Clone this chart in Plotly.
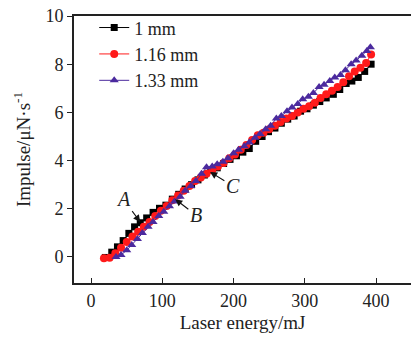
import plotly.graph_objects as go

x_1mm = [20, 29, 37, 45, 53, 61, 69, 78, 87, 96, 105, 114, 123, 132, 141, 150, 159, 168, 177, 186, 195,
         204, 213, 222, 231, 240, 249, 258, 267, 276, 285, 294, 303, 312, 321, 330, 340, 349, 358, 366,
         375, 384, 393]
y_1mm = [-0.02, 0.2, 0.42, 0.68, 0.98, 1.25, 1.42, 1.62, 1.85, 2.02, 2.15, 2.4, 2.6, 2.82, 3.0, 3.2, 3.4,
         3.6, 3.7, 3.88, 4.05, 4.2, 4.35, 4.5, 4.8, 5.0, 5.2, 5.35, 5.55, 5.72, 5.85, 6.05, 6.15, 6.3, 6.45,
         6.6, 6.75, 6.95, 7.2, 7.3, 7.45, 7.7, 8.0]

x_116 = [18, 26, 34, 42, 50, 58, 66, 74, 82, 90, 98, 106, 114, 122, 130, 138, 146, 154, 162, 170, 178,
         186, 194, 202, 210, 218, 226, 234, 242, 250, 258, 266, 274, 282, 290, 298, 306, 314, 322, 330,
         338, 346, 354, 362, 370, 378, 386, 393]
y_116 = [-0.05, -0.03, 0.15, 0.38, 0.62, 0.85, 1.05, 1.25, 1.45, 1.7, 1.92, 2.12, 2.35, 2.55, 2.75, 2.95,
         3.15, 3.3, 3.45, 3.6, 3.75, 3.9, 4.1, 4.25, 4.45, 4.65, 4.85, 5.05, 5.15, 5.3, 5.45, 5.6, 5.75,
         5.85, 6.0, 6.15, 6.25, 6.4, 6.6, 6.75, 6.9, 7.05, 7.25, 7.5, 7.7, 7.85, 8.05, 8.4]

x_133 = [35, 42, 50, 57, 65, 72, 80, 87, 95, 102, 110, 117, 125, 132, 140, 147, 155, 162, 170, 177, 185,
         192, 200, 207, 215, 222, 230, 237, 245, 252, 260, 267, 275, 282, 290, 297, 305, 312, 320, 327,
         335, 342, 350, 357, 365, 372, 380, 387, 392]
y_133 = [0.0, 0.08, 0.28, 0.5, 0.75, 1.0, 1.25, 1.45, 1.7, 1.88, 2.1, 2.3, 2.5, 2.75, 2.95, 3.15, 3.45,
         3.72, 3.75, 3.85, 3.95, 4.1, 4.3, 4.45, 4.6, 4.75, 4.95, 5.1, 5.3, 5.45, 5.75, 5.85, 6.05, 6.2,
         6.35, 6.55, 6.65, 6.8, 7.05, 7.15, 7.3, 7.45, 7.55, 7.75, 8.0, 8.15, 8.35, 8.55, 8.7]

names = ["1 mm", "1.16 mm", "1.33 mm"]
colors = ["#000000", "#ff1a1a", "#4b2a9e"]
symbols = ["square", "circle", "triangle-up"]
sizes = [7, 8, 8]

x_ticks = [0, 100, 200, 300, 400]
y_ticks = [0, 2, 4, 6, 8, 10]

# label, label position (x, y), arrow head (x, y)
labels = ["A", "B", "C"]
label_x = [45, 147, 199]
label_y = [2.4, 1.74, 2.95]
head_x = [69, 118, 167]
head_y = [1.45, 2.4, 3.53]

font = "Liberation Serif, Times New Roman, serif"

fig = go.Figure()
for xs, ys, n, c, s, sz in zip([x_1mm, x_116, x_133], [y_1mm, y_116, y_133], names, colors, symbols, sizes):
    fig.add_trace(go.Scatter(x=xs, y=ys, name=n, mode="lines+markers",
                             line=dict(color=c, width=1),
                             marker=dict(symbol=s, size=sz, color=c)))

for t, tx, ty, hx, hy in zip(labels, label_x, label_y, head_x, head_y):
    fig.add_annotation(x=hx, y=hy, ax=tx, ay=ty, axref="x", ayref="y", xref="x", yref="y",
                       text="<i>%s</i>" % t, showarrow=True, arrowhead=2, arrowsize=1.3,
                       arrowwidth=1.1, arrowcolor="#111",
                       font=dict(family=font, size=20, color="#222"))

fig.update_layout(
    width=411, height=338,
    margin=dict(l=74, r=0, t=16, b=55),
    paper_bgcolor="white", plot_bgcolor="white",
    font=dict(family=font, size=18, color="#222"),
    showlegend=True,
    legend=dict(x=0.06, y=1.025, xanchor="left", yanchor="top", bgcolor="rgba(0,0,0,0)",
                font=dict(family=font, size=18, color="#222"), tracegroupgap=0),
    xaxis=dict(range=[-24, 449], tickvals=x_ticks, ticks="inside", ticklen=5, tickcolor="#222",
               showline=True, linecolor="#222", linewidth=1.8, mirror=True, showgrid=False,
               tickfont=dict(size=18),
               zeroline=False, title=dict(text="Laser energy/mJ", standoff=6,
                                          font=dict(family=font, size=19))),
    yaxis=dict(range=[-1.08, 10], tickvals=y_ticks, ticks="outside", ticklen=5, tickcolor="#222",
               showline=True, linecolor="#222", linewidth=1.8, showgrid=False, zeroline=False,
               tickfont=dict(size=18),
               title=dict(text="Impulse/μN·s<sup>-1</sup>", standoff=10,
                          font=dict(family=font, size=19))),
)

fig.write_html("out.html")
